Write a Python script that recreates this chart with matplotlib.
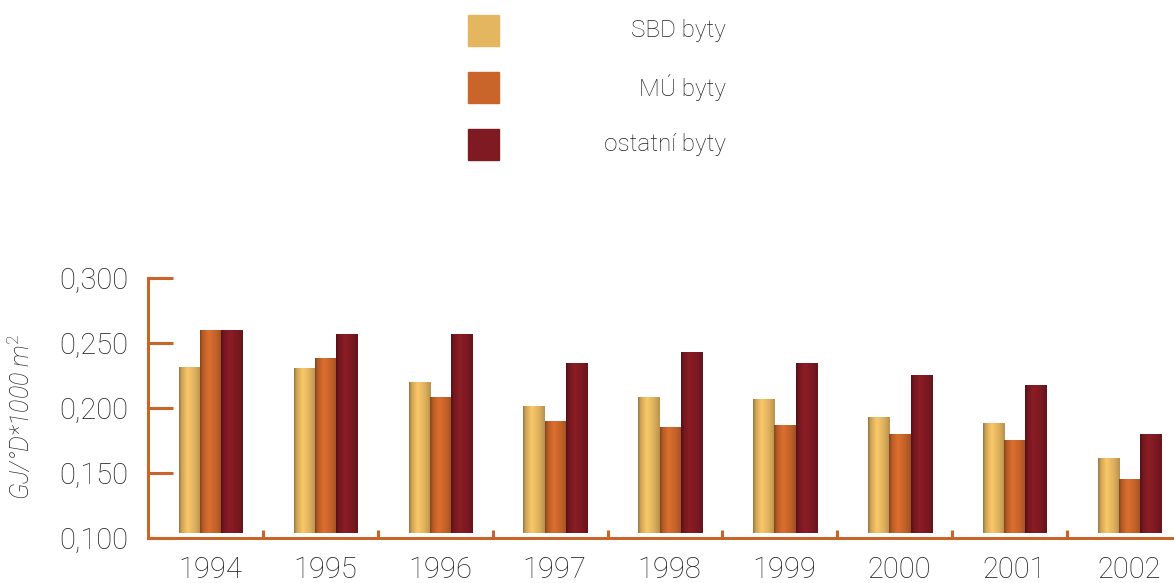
import numpy as np
import matplotlib
matplotlib.use("Agg")
import matplotlib.pyplot as plt
from matplotlib.colors import to_rgb
from matplotlib.patches import Rectangle

years = ["1994", "1995", "1996", "1997", "1998", "1999", "2000", "2001", "2002"]
series_names = ["SBD byty", "MÚ byty", "ostatní byty"]
sbd = [0.231, 0.230, 0.219, 0.201, 0.208, 0.206, 0.192, 0.188, 0.161]
mu = [0.259, 0.238, 0.208, 0.189, 0.185, 0.186, 0.179, 0.175, 0.145]
ostatni = [0.259, 0.256, 0.256, 0.234, 0.242, 0.234, 0.225, 0.217, 0.179]
colors = ["#E4B660", "#C9652B", "#7F1A22"]
yticks = [0.100, 0.150, 0.200, 0.250, 0.300]
ytick_labels = ["0,100", "0,150", "0,200", "0,250", "0,300"]
ylabel = "GJ/°D*1000 m$^2$"

FONT = ["Roboto", "DejaVu Sans"]
plt.rcParams["font.family"] = FONT
plt.rcParams["mathtext.fontset"] = "custom"
plt.rcParams["mathtext.rm"] = "Roboto:light"
plt.rcParams["mathtext.it"] = "Roboto:italic:light"
AX_COL = "#C8652A"
TXT = "#1e1e1e"

W, H = 1174, 583
fig = plt.figure(figsize=(W / 100, H / 100), dpi=100)
ax = fig.add_axes([148 / W, 45 / H, 1034 / W, 260 / H])

bw = 0.185
center_off = 0.545
base = 0.1035
profile_x = np.linspace(0, 1, 64)
prof = np.interp(profile_x, [0, 0.12, 0.4, 0.75, 1.0], [0.66, 0.9, 1.1, 0.96, 0.8])

def shade(col):
    c = np.array(to_rgb(col))
    img = np.clip(c[None, :] * prof[:, None], 0, 1)
    return img[None, :, :]

for j, vals in enumerate([sbd, mu, ostatni]):
    xs = np.arange(len(years)) + center_off + (j - 1) * bw
    bars = ax.bar(xs, np.array(vals) - base, bottom=base, width=bw,
                  color=colors[j], edgecolor="none", zorder=2, label=series_names[j])
    img = shade(colors[j])
    for b in bars:
        x0, y0 = b.get_x(), b.get_y()
        ax.imshow(img, extent=(x0, x0 + b.get_width(), y0, y0 + b.get_height()),
                  aspect="auto", zorder=3, interpolation="bilinear")
ax.set_xlim(0, len(years))
ax.set_ylim(0.1, 0.3)

for s in ["top", "right"]:
    ax.spines[s].set_visible(False)
for s in ["left", "bottom"]:
    ax.spines[s].set_color(AX_COL)
    ax.spines[s].set_linewidth(2.2)

ax.set_yticks(yticks)
ax.set_yticklabels(ytick_labels)
ax.tick_params(axis="y", direction="in", length=18, width=2.2, color=AX_COL,
               pad=14, labelsize=21, labelcolor=TXT)
for t in ax.get_yticklabels():
    t.set_fontweight("light")

ax.set_xticks(np.arange(len(years)) + 0.54)
ax.set_xticklabels(years)
ax.set_xticks(np.arange(1, len(years)), minor=True)
ax.tick_params(axis="x", which="major", length=0, pad=13, labelsize=21, labelcolor=TXT)
ax.tick_params(axis="x", which="minor", direction="in", length=6, width=2.2, color=AX_COL)
for t in ax.get_xticklabels():
    t.set_fontweight("light")

fig.text(21 / W, 1 - 417 / H, ylabel, rotation=90, ha="center", va="center",
         fontsize=18, style="italic", fontweight="light", color=TXT)

# legend
leg_y = [15, 72, 129]
for name, col, yy in zip(series_names, colors, leg_y):
    fig.patches.append(Rectangle((468 / W, 1 - (yy + 31) / H), 31 / W, 31 / H,
                                 transform=fig.transFigure, color=col, figure=fig))
    fig.text(726 / W, 1 - (yy + 15.5) / H, name, ha="right", va="center",
             fontsize=17.5, fontweight="light", color=TXT)

fig.savefig("out.png", dpi=100)
